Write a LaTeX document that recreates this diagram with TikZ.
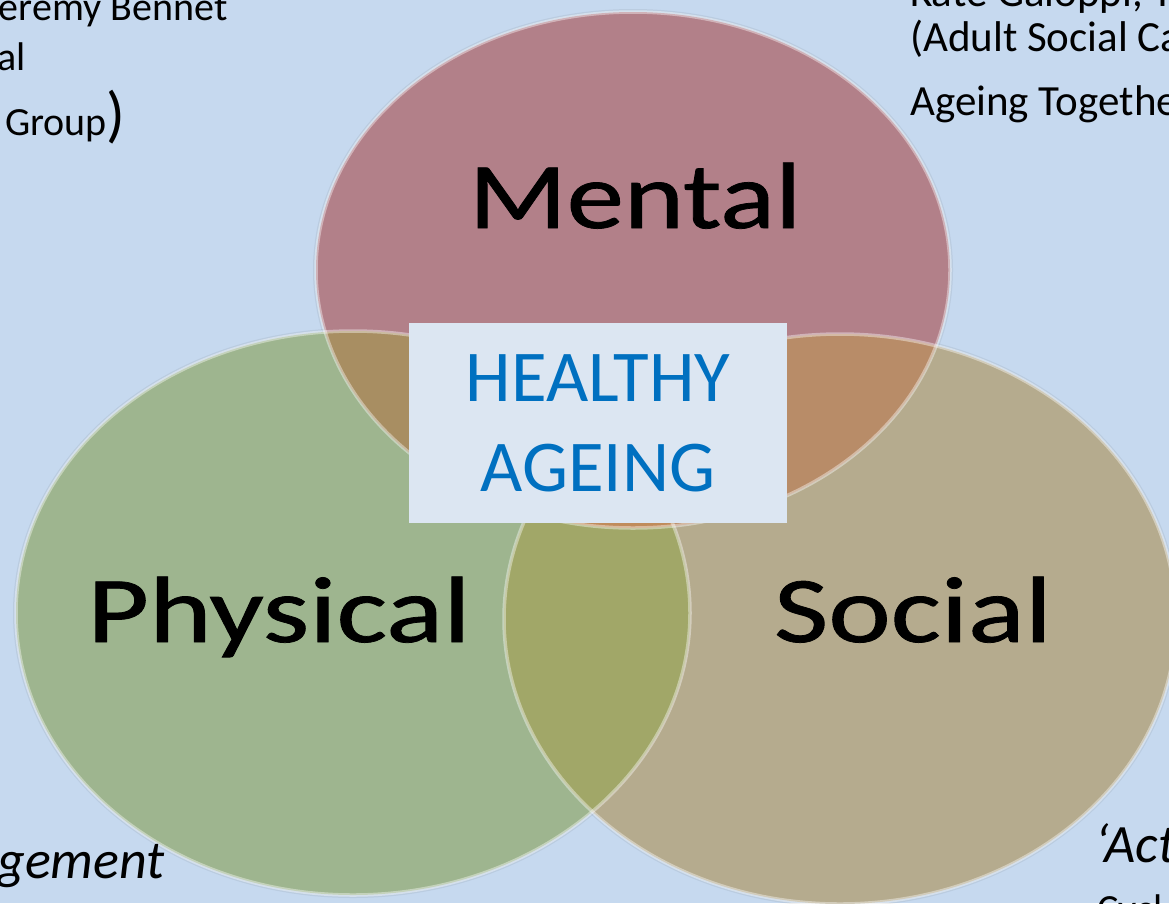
\documentclass[tikz,border=0pt]{standalone}
\usepackage{fontspec}
\setmainfont{Carlito}
\newfontfamily\labelfont{Carlito}[FakeBold=0.8]
\definecolor{bgblue}{RGB}{198,217,239}
\definecolor{mentalc}{RGB}{178,128,137}
\definecolor{physc}{RGB}{158,181,143}
\definecolor{socc}{RGB}{181,171,142}
\definecolor{mpc}{RGB}{168,142,98}
\definecolor{msc}{RGB}{184,140,104}
\definecolor{psc}{RGB}{161,167,104}
\definecolor{allc}{RGB}{192,140,92}
\definecolor{boxc}{RGB}{220,230,242}
\definecolor{hablue}{RGB}{0,112,192}
\tikzset{
  mentalE/.style={insert path={(633,270) ellipse [x radius=317pt, y radius=258pt]}},
  physE/.style={insert path={(353,613) ellipse [x radius=337pt, y radius=282pt]}},
  socE/.style={insert path={(840,619) ellipse [x radius=336pt, y radius=285pt]}},
  rim/.style={draw=white, draw opacity=0.4, line width=3.5pt},
  shade/.style={draw=black, draw opacity=0.06, line width=6pt},
  bigword/.style={inner sep=0pt, font=\labelfont\fontsize{94}{100}\selectfont, text=black},
  corner/.style={inner sep=0pt, font=\fontsize{40}{48}\selectfont, text=black},
  cornerr/.style={inner sep=0pt, font=\fontsize{43}{50}\selectfont, text=black},
  cornerit/.style={inner sep=0pt, font=\fontsize{54}{60}\selectfont\itshape, text=black},
  habox/.style={fill=boxc, draw=none, minimum width=378pt, minimum height=200pt, inner sep=0pt,
     align=center, text=hablue, font=\fontsize{73}{90}\selectfont}
}
\begin{document}
\begin{tikzpicture}[x=1pt,y=-1pt]
\useasboundingbox (0,0) rectangle (1169,903);
\clip (0,0) rectangle (1169,903);
\fill[bgblue] (0,0) rectangle (1169,903);
% soft shadows
\draw[shade, physE];
\draw[shade, socE];
\draw[shade, mentalE];
% base fills
\fill[physc, physE];
\fill[socc, socE];
\fill[mentalc, mentalE];
% overlaps
\begin{scope}
  \clip[mentalE];
  \fill[mpc, physE];
\end{scope}
\begin{scope}
  \clip[mentalE];
  \fill[msc, socE];
\end{scope}
\begin{scope}
  \clip[physE];
  \fill[psc, socE];
\end{scope}
\begin{scope}
  \clip[physE];
  \clip[socE];
  \fill[allc, mentalE];
\end{scope}
% rims
\draw[rim, socE];
\draw[rim, physE];
\draw[rim, mentalE];
% circle labels
\node[bigword, anchor=base] (mental) at (635,228) {\scalebox{1.22}[1]{Mental}};
\node[bigword, anchor=base] (physical) at (279,642) {\scalebox{1.27}[1]{Physical}};
\node[bigword, anchor=base] (social) at (913,642) {\scalebox{1.26}[1]{Social}};
% centre box
\node[habox] (ha) at (598,423) {HEALTHY\\AGEING};
% corner texts
\node[corner, anchor=base west] (tl1) at (-14,20) {Jeremy Bennet};
\node[corner, anchor=base west] (tl2) at (-3,70) {al};
\node[corner, anchor=base west] (tl3) at (5,135) {Group\fontsize{62}{62}\selectfont)};
\node[cornerr, anchor=base west] (tr1) at (910,6) {Kate Galoppi, T};
\node[cornerr, anchor=base west] (tr2) at (910,51) {(Adult Social Care)};
\node[cornerr, anchor=base west] (tr3) at (910,115) {Ageing Together};
\node[cornerit, anchor=base east] (bl) at (165,878) {gement};
\node[cornerit, anchor=base west] (br1) at (1095,862) {‘Act};
\node[corner, anchor=base west] (br2) at (1097,922) {Cycl};
\end{tikzpicture}
\end{document}
